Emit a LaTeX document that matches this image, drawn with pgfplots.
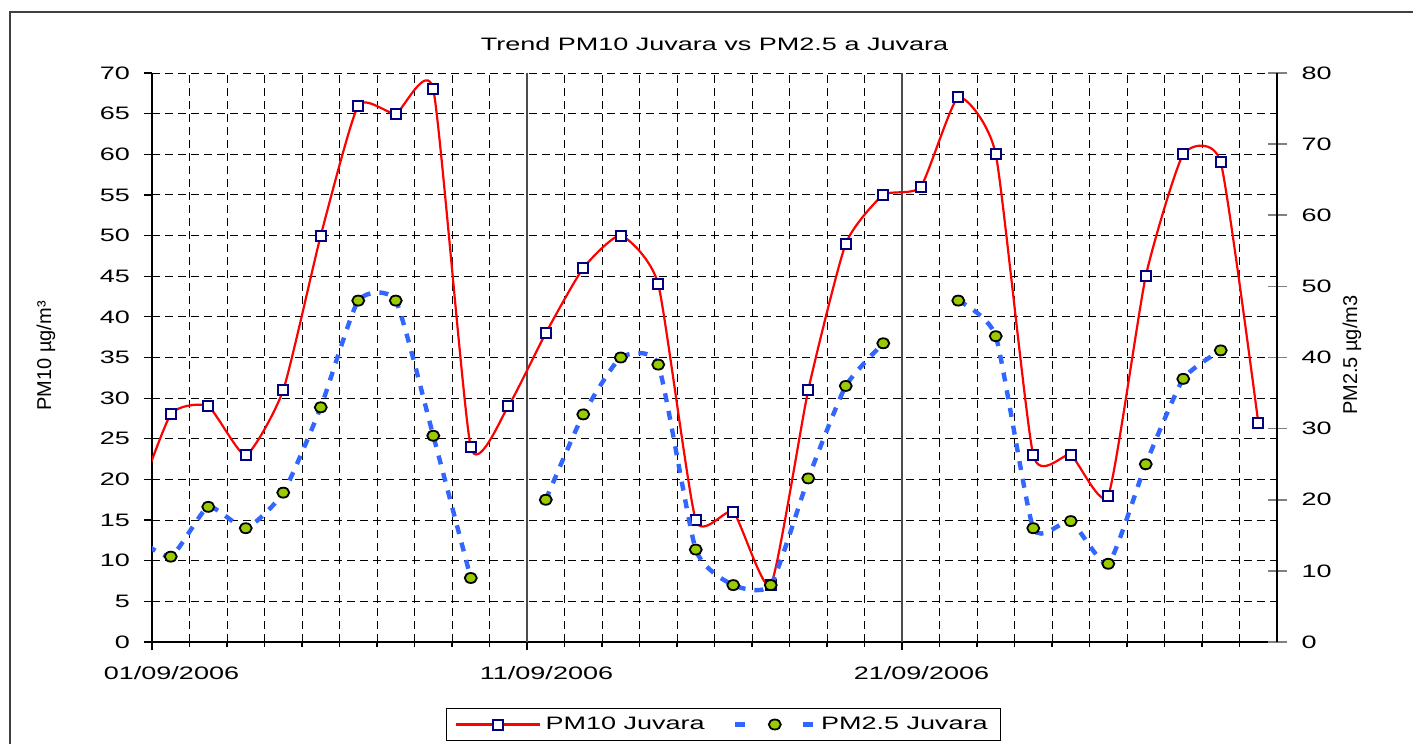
\documentclass[border=0pt]{standalone}
\usepackage{fontspec}
\setmainfont{Liberation Sans}[FakeStretch=1.5]
\newfontfamily\plainfont{Liberation Sans}
\usepackage{pgfplots}
\pgfplotsset{compat=1.18}
\definecolor{navyb}{RGB}{0,0,128}
\definecolor{pmblue}{RGB}{51,102,255}
\definecolor{pmgreen}{RGB}{153,204,0}
\pgfplotsset{
  legA/.style={legend image code/.code={\draw[mark repeat=2,mark phase=2,##1] plot coordinates {(0pt,0pt) (21pt,0pt) (42pt,0pt)};}},
  legB/.style={legend image code/.code={\draw[mark repeat=2,mark phase=2,##1, dash pattern=on 5pt off 29pt] plot coordinates {(0pt,0pt) (20pt,0pt) (40pt,0pt)};}},
  pmtwo/.style={pmblue, line width=2.2pt, smooth, tension=0.32, dash pattern=on 4.5pt off 4.5pt, mark=*, mark size=2.5pt,
  mark options={draw=black, fill=pmgreen, line width=0.9pt, solid, xscale=1.2}},
}
\begin{document}
\begin{tikzpicture}
\useasboundingbox (0pt,0pt) rectangle (706.5pt,-372pt);
\draw[black!75, line width=1pt] (5pt,-372pt) -- (5pt,-6pt) -- (706.5pt,-6pt);
\begin{axis}[
  at={(76pt,-321pt)}, anchor=south west, scale only axis,
  width=562.5pt, height=284.5pt,
  xmin=0, xmax=30, ymin=0, ymax=70,
  axis x line*=bottom, axis y line*=left,
  axis line style={line width=0.9pt},
  xtick={0,10,20},
  xticklabels={01/09/2006,11/09/2006,21/09/2006},
  minor xtick={1,...,9,11,12,...,19,21,22,...,29},
  extra x ticks={10,20}, extra x tick labels={},
  extra x tick style={xmajorgrids=true, major grid style={solid, black!70, line width=0.6pt}},
  xminorgrids, ymajorgrids,
  minor grid style={black, line width=0.5pt, dash pattern=on 4pt off 2.5pt},
  major grid style={black, line width=0.5pt, dash pattern=on 4pt off 2.5pt},
  ytick={0,5,...,70},
  tick align=outside, major tick length=4pt, minor tick length=2.5pt,
  tick style={black, line width=0.6pt},
  tick label style={font=\fontsize{9}{11}\selectfont},
  /pgf/number format/assume math mode=true,
  xticklabel style={xshift=9.75pt, yshift=-4.5pt},
  yticklabel style={xshift=-3.5pt},
  title={Trend PM10 Juvara vs PM2.5 a Juvara},
  title style={at={(0.5,1)}, anchor=center, yshift=8.5pt, font=\fontsize{9}{11}\selectfont},
  ylabel={PM10 µg/m³},
  ylabel style={at={(axis description cs:-0.0942,0.503)}, anchor=center, font=\plainfont\fontsize{10}{12}\selectfont},
]
\addplot[red, line width=1.1pt, smooth, tension=0.32, mark=square*, mark size=2.5pt,
  mark options={draw=navyb, fill=white, line width=1pt, solid}]
  coordinates {(-0.5,16) (0.5,28) (1.5,29) (2.5,23) (3.5,31) (4.5,50) (5.5,66) (6.5,65) (7.5,68) (8.5,24) (9.5,29)
  (10.5,38) (11.5,46) (12.5,50) (13.5,44) (14.5,15) (15.5,16) (16.5,7) (17.5,31) (18.5,49) (19.5,55)
  (20.5,56) (21.5,67) (22.5,60) (23.5,23) (24.5,23) (25.5,18) (26.5,45) (27.5,60) (28.5,59) (29.5,27)};
\end{axis}
\begin{axis}[
  at={(76pt,-321pt)}, anchor=south west, scale only axis,
  width=562.5pt, height=284.5pt,
  xmin=0, xmax=30, ymin=0, ymax=80,
  axis x line=none, axis y line*=right,
  axis line style={line width=0.9pt},
  ytick={0,10,...,80},
  tick align=center, major tick length=9.5pt,
  ytick style={black!50, line width=0.8pt},
  tick label style={font=\fontsize{9}{11}\selectfont},
  /pgf/number format/assume math mode=true,
  yticklabel style={xshift=4pt},
  ylabel={PM2.5 µg/m3},
  ylabel style={at={(axis description cs:1.0667,0.504)}, anchor=center, font=\plainfont\fontsize{10}{12}\selectfont},
  legend columns=2,
  legend style={at={(axis description cs:0.508,-0.145)}, anchor=center, draw=black, line width=0.5pt,
    inner xsep=4.5pt, font=\fontsize{9}{11}\selectfont, /tikz/every even column/.append style={column sep=12pt}},
]
\addlegendimage{red, line width=1.1pt, mark=square*, mark size=2.5pt,
  mark options={draw=navyb, fill=white, line width=1pt, solid}, legA}
\addlegendentry{PM10 Juvara}
\addplot[pmtwo, legB]
  coordinates {(-0.5,15) (0.5,12) (1.5,19) (2.5,16) (3.5,21) (4.5,33) (5.5,48) (6.5,48) (7.5,29) (8.5,9)};
\addlegendentry{PM2.5 Juvara}
\addplot[pmtwo, forget plot]
  coordinates {(10.5,20) (11.5,32) (12.5,40) (13.5,39) (14.5,13) (15.5,8) (16.5,8) (17.5,23) (18.5,36) (19.5,42)};
\addplot[pmtwo, forget plot]
  coordinates {(21.5,48) (22.5,43) (23.5,16) (24.5,17) (25.5,11) (26.5,25) (27.5,37) (28.5,41)};
\end{axis}
\end{tikzpicture}
\end{document}
